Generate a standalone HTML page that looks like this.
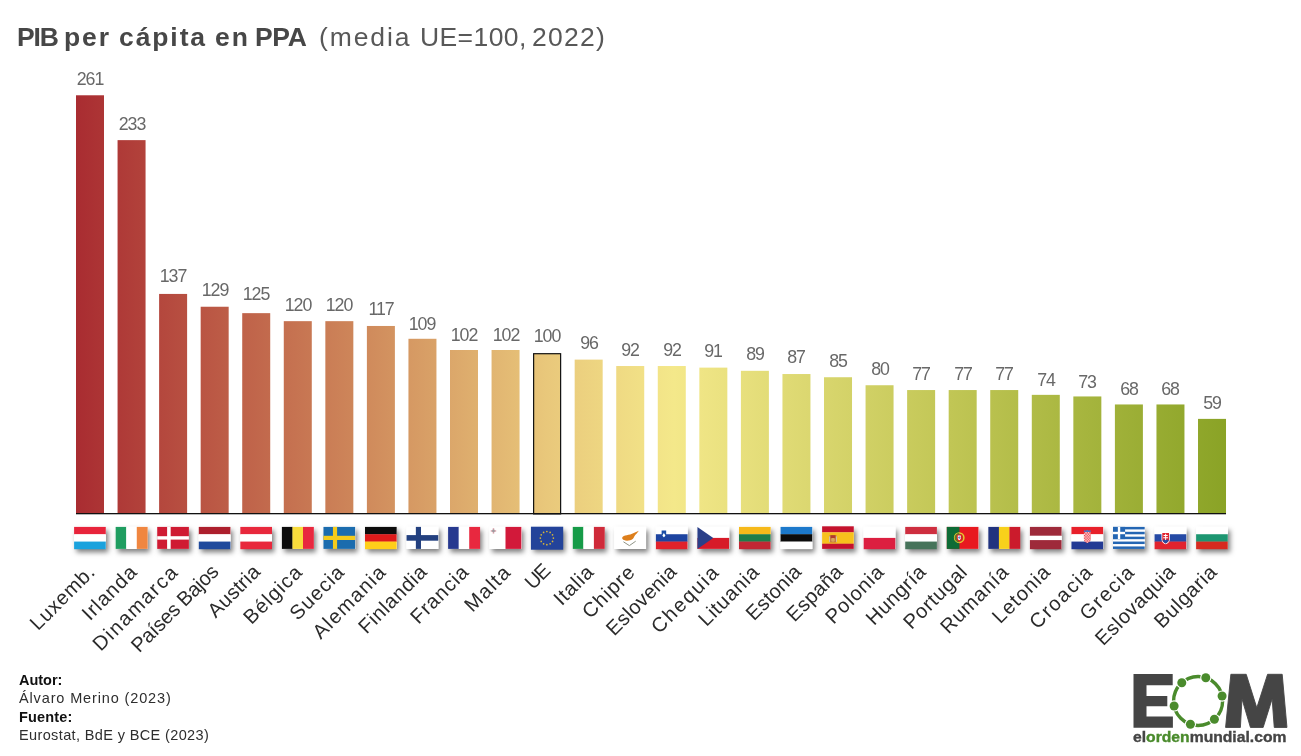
<!DOCTYPE html><html><head><meta charset="utf-8"><title>PIB per cápita en PPA</title><style>

html,body{margin:0;padding:0;background:#fff;}
body{width:1301px;height:756px;position:relative;overflow:hidden;font-family:"Liberation Sans",sans-serif;}
.t{position:absolute;white-space:pre;line-height:1;will-change:transform;}
.title{top:24.44px;font-size:26.5px;color:#474747;}
.tb{font-weight:700;}
.tr{color:#585858;}
.v{position:absolute;will-change:transform;width:60px;text-align:center;font-size:17.8px;color:#686868;line-height:1;letter-spacing:-1.1px;}
.l{position:absolute;white-space:pre;font-size:20.2px;color:#2b2b2b;line-height:1;transform-origin:100% 50%;transform:rotate(-45deg);text-align:right;}
.f{left:18.5px;font-size:14.5px;color:#111;}
.logo{left:1133px;top:729.6px;font-size:14.4px;font-weight:700;color:#454545;transform-origin:0 0;transform:scaleX(1.09);letter-spacing:0;-webkit-text-stroke:0.35px currentColor;}
.logo i{font-style:normal;color:#4a8b2c;}

</style></head><body>
<svg width="1301" height="756" viewBox="0 0 1301 756" style="position:absolute;left:0;top:0">
<defs>
<linearGradient id="g" gradientUnits="userSpaceOnUse" x1="76.0" y1="0" x2="1226.01" y2="0"><stop offset="0" stop-color="#a92c31"/><stop offset="0.25" stop-color="#cf895b"/><stop offset="0.41" stop-color="#e9c87b"/><stop offset="0.52" stop-color="#f4e88a"/><stop offset="0.76" stop-color="#c1c655"/><stop offset="1" stop-color="#8aa326"/></linearGradient>
<filter id="sh" x="-30%" y="-30%" width="170%" height="190%"><feDropShadow dx="2.4" dy="3.4" stdDeviation="2.7" flood-color="#000" flood-opacity="0.5"/></filter>
<pattern id="chk" width="2.72" height="2.72" patternUnits="userSpaceOnUse" x="12.6" y="5.2"><rect width="1.36" height="1.36" x="1.36" y="0" fill="#fff"/><rect width="1.36" height="1.36" x="0" y="1.36" fill="#fff"/></pattern>
</defs>
<rect x="76" y="95.28" width="28" height="418.12" fill="url(#g)"/>
<rect x="117.56" y="140.13" width="28" height="373.27" fill="url(#g)"/>
<rect x="159.11" y="293.93" width="28" height="219.47" fill="url(#g)"/>
<rect x="200.67" y="306.74" width="28" height="206.66" fill="url(#g)"/>
<rect x="242.22" y="313.15" width="28" height="200.25" fill="url(#g)"/>
<rect x="283.78" y="321.16" width="28" height="192.24" fill="url(#g)"/>
<rect x="325.34" y="321.16" width="28" height="192.24" fill="url(#g)"/>
<rect x="366.89" y="325.97" width="28" height="187.43" fill="url(#g)"/>
<rect x="408.45" y="338.78" width="28" height="174.62" fill="url(#g)"/>
<rect x="450" y="350" width="28" height="163.4" fill="url(#g)"/>
<rect x="491.56" y="350" width="28" height="163.4" fill="url(#g)"/>
<rect x="533.62" y="353.7" width="27" height="160.2" fill="url(#g)" stroke="#111" stroke-width="1.2"/>
<rect x="574.67" y="359.61" width="28" height="153.79" fill="url(#g)"/>
<rect x="616.23" y="366.02" width="28" height="147.38" fill="url(#g)"/>
<rect x="657.78" y="366.02" width="28" height="147.38" fill="url(#g)"/>
<rect x="699.34" y="367.62" width="28" height="145.78" fill="url(#g)"/>
<rect x="740.9" y="370.82" width="28" height="142.58" fill="url(#g)"/>
<rect x="782.45" y="374.03" width="28" height="139.37" fill="url(#g)"/>
<rect x="824.01" y="377.23" width="28" height="136.17" fill="url(#g)"/>
<rect x="865.56" y="385.24" width="28" height="128.16" fill="url(#g)"/>
<rect x="907.12" y="390.05" width="28" height="123.35" fill="url(#g)"/>
<rect x="948.68" y="390.05" width="28" height="123.35" fill="url(#g)"/>
<rect x="990.23" y="390.05" width="28" height="123.35" fill="url(#g)"/>
<rect x="1031.79" y="394.85" width="28" height="118.55" fill="url(#g)"/>
<rect x="1073.34" y="396.45" width="28" height="116.95" fill="url(#g)"/>
<rect x="1114.9" y="404.46" width="28" height="108.94" fill="url(#g)"/>
<rect x="1156.46" y="404.46" width="28" height="108.94" fill="url(#g)"/>
<rect x="1198.01" y="418.88" width="28" height="94.52" fill="url(#g)"/>
<rect x="76.0" y="513" width="1150.01" height="1.3" fill="#111"/>
<g transform="translate(74.1 526.9) scale(0.99 1)"><rect width="32" height="22" fill="#fff" filter="url(#sh)"/><rect x="0" y="0" width="32" height="7.63" fill="#e8243b"/><rect x="0" y="7.33" width="32" height="7.63" fill="#ffffff"/><rect x="0" y="14.67" width="32" height="7.63" fill="#1aa2dd"/></g>
<g transform="translate(115.66 526.9) scale(0.99 1)"><rect width="32" height="22" fill="#fff" filter="url(#sh)"/><rect x="0" y="0" width="10.97" height="22" fill="#1f9d60"/><rect x="10.67" y="0" width="10.97" height="22" fill="#ffffff"/><rect x="21.33" y="0" width="10.97" height="22" fill="#f08640"/></g>
<g transform="translate(157.21 526.9) scale(0.99 1)"><rect width="32" height="22" fill="#fff" filter="url(#sh)"/><rect width="32" height="22" fill="#cf1b33"/><rect x="10" y="0" width="3.6" height="22" fill="#fff"/><rect x="0" y="9.3" width="32" height="3.4" fill="#fff"/></g>
<g transform="translate(198.77 526.9) scale(0.99 1)"><rect width="32" height="22" fill="#fff" filter="url(#sh)"/><rect x="0" y="0" width="32" height="7.63" fill="#ad1f2d"/><rect x="0" y="7.33" width="32" height="7.63" fill="#ffffff"/><rect x="0" y="14.67" width="32" height="7.63" fill="#1f4a9c"/></g>
<g transform="translate(240.32 526.9) scale(0.99 1)"><rect width="32" height="22" fill="#fff" filter="url(#sh)"/><rect x="0" y="0" width="32" height="7.63" fill="#e8283c"/><rect x="0" y="7.33" width="32" height="7.63" fill="#ffffff"/><rect x="0" y="14.67" width="32" height="7.63" fill="#e8283c"/></g>
<g transform="translate(281.88 526.9) scale(0.99 1)"><rect width="32" height="22" fill="#fff" filter="url(#sh)"/><rect x="0" y="0" width="10.97" height="22" fill="#0c0c0c"/><rect x="10.67" y="0" width="10.97" height="22" fill="#f8dc3c"/><rect x="21.33" y="0" width="10.97" height="22" fill="#e8283f"/></g>
<g transform="translate(323.44 526.9) scale(0.99 1)"><rect width="32" height="22" fill="#fff" filter="url(#sh)"/><rect width="32" height="22" fill="#1b6cae"/><rect x="9.6" y="0" width="4.2" height="22" fill="#f5cb1b"/><rect x="0" y="8.9" width="32" height="4.2" fill="#f5cb1b"/></g>
<g transform="translate(364.99 526.9) scale(0.99 1)"><rect width="32" height="22" fill="#fff" filter="url(#sh)"/><rect x="0" y="0" width="32" height="7.63" fill="#0c0c0c"/><rect x="0" y="7.33" width="32" height="7.63" fill="#dd1a1a"/><rect x="0" y="14.67" width="32" height="7.63" fill="#ffce1a"/></g>
<g transform="translate(406.55 526.9) scale(0.99 1)"><rect width="32" height="22" fill="#fff" filter="url(#sh)"/><rect width="32" height="22" fill="#fff"/><rect x="9.4" y="0" width="5.2" height="22" fill="#23407f"/><rect x="0" y="8.2" width="32" height="5.6" fill="#23407f"/></g>
<g transform="translate(448.1 526.9) scale(0.99 1)"><rect width="32" height="22" fill="#fff" filter="url(#sh)"/><rect x="0" y="0" width="10.97" height="22" fill="#27398f"/><rect x="10.67" y="0" width="10.97" height="22" fill="#ffffff"/><rect x="21.33" y="0" width="10.97" height="22" fill="#e8283f"/></g>
<g transform="translate(489.66 526.9) scale(0.99 1)"><rect width="32" height="22" fill="#fff" filter="url(#sh)"/><rect width="32" height="22" fill="#fff"/><rect x="16" y="0" width="16" height="22" fill="#d2193a"/><rect x="3.1" y="1.3" width="1.5" height="5.4" fill="#d9a3ad"/><rect x="1.1" y="3.3" width="5.5" height="1.5" fill="#d9a3ad"/><circle cx="3.85" cy="4.05" r="1.35" fill="#9b9b9f"/></g>
<g transform="translate(531.22 526.9) scale(0.99 1)"><rect width="32" height="22" fill="#fff" filter="url(#sh)"/><rect x="-0.3" y="-0.2" width="32.6" height="23" fill="#23439a"/><circle cx="15.8" cy="4.6" r="0.85" fill="#d9b638"/><circle cx="19.1" cy="5.48" r="0.85" fill="#d9b638"/><circle cx="21.52" cy="7.9" r="0.85" fill="#d9b638"/><circle cx="22.4" cy="11.2" r="0.85" fill="#d9b638"/><circle cx="21.52" cy="14.5" r="0.85" fill="#d9b638"/><circle cx="19.1" cy="16.92" r="0.85" fill="#d9b638"/><circle cx="15.8" cy="17.8" r="0.85" fill="#d9b638"/><circle cx="12.5" cy="16.92" r="0.85" fill="#d9b638"/><circle cx="10.08" cy="14.5" r="0.85" fill="#d9b638"/><circle cx="9.2" cy="11.2" r="0.85" fill="#d9b638"/><circle cx="10.08" cy="7.9" r="0.85" fill="#d9b638"/><circle cx="12.5" cy="5.48" r="0.85" fill="#d9b638"/></g>
<g transform="translate(572.77 526.9) scale(0.99 1)"><rect width="32" height="22" fill="#fff" filter="url(#sh)"/><rect x="0" y="0" width="10.97" height="22" fill="#169b48"/><rect x="10.67" y="0" width="10.97" height="22" fill="#ffffff"/><rect x="21.33" y="0" width="10.97" height="22" fill="#cf2b3a"/></g>
<g transform="translate(614.33 526.9) scale(0.99 1)"><rect width="32" height="22" fill="#fff" filter="url(#sh)"/><rect width="32" height="22" fill="#fff"/><path d="M7.9 10.8 C8.4 9.2 10.4 8.4 12.6 8.3 C14.8 8 17.4 7.4 19.6 6.2 L24.8 3.8 L22.6 6.6 C21.4 7.8 20.6 8.6 20 9.8 C19.4 11.6 18 13 16 13.4 C14 13.9 11.4 14 9.8 13.2 C8.6 12.6 7.8 11.8 7.9 10.8 Z" fill="#dd7f1c"/><path d="M9.2 14.9 L15.2 18.7 L21.6 14.3" fill="none" stroke="#8f9384" stroke-width="1" stroke-linejoin="round"/></g>
<g transform="translate(655.88 526.9) scale(0.99 1)"><rect width="32" height="22" fill="#fff" filter="url(#sh)"/><rect x="0" y="0" width="32" height="7.63" fill="#ffffff"/><rect x="0" y="7.33" width="32" height="7.63" fill="#1d44a0"/><rect x="0" y="14.67" width="32" height="7.63" fill="#e1222b"/><path d="M5.8 3.6 h4.6 v4.4 c0 1.8 -1.4 2.8 -2.3 3.2 c-0.9 -0.4 -2.3 -1.4 -2.3 -3.2 z" fill="#1b4fa8"/><path d="M6.6 8.6 l1.5 -2.4 l1.5 2.4 c-0.3 0.9 -0.9 1.5 -1.5 1.8 c-0.6 -0.3 -1.2 -0.9 -1.5 -1.8z" fill="#fff"/></g>
<g transform="translate(697.44 526.9) scale(0.99 1)"><rect width="32" height="22" fill="#fff" filter="url(#sh)"/><rect width="32" height="11.2" fill="#fff"/><rect y="11" width="32" height="11" fill="#d71a28"/><path d="M0 0 L16 11 L0 22 Z" fill="#2a3f88"/></g>
<g transform="translate(739 526.9) scale(0.99 1)"><rect width="32" height="22" fill="#fff" filter="url(#sh)"/><rect x="0" y="0" width="32" height="7.63" fill="#f6b91a"/><rect x="0" y="7.33" width="32" height="7.63" fill="#1e7d49"/><rect x="0" y="14.67" width="32" height="7.63" fill="#c22734"/></g>
<g transform="translate(780.55 526.9) scale(0.99 1)"><rect width="32" height="22" fill="#fff" filter="url(#sh)"/><rect x="0" y="0" width="32" height="7.63" fill="#1c79cb"/><rect x="0" y="7.33" width="32" height="7.63" fill="#0c0c0c"/><rect x="0" y="14.67" width="32" height="7.63" fill="#ffffff"/></g>
<g transform="translate(822.11 526.9) scale(0.99 1)"><rect width="32" height="22" fill="#fff" filter="url(#sh)"/><rect y="-0.6" width="32" height="6.2" fill="#c4122d"/><rect y="5.4" width="32" height="11.6" fill="#f7c11c"/><rect y="16.8" width="32" height="5.2" fill="#c4122d"/><rect x="7.2" y="8" width="7.6" height="7.6" rx="1.6" fill="#c0703a"/><rect x="8.6" y="8.4" width="4.8" height="3" fill="#b33a2c"/><rect x="9.2" y="11.2" width="3.6" height="3.6" rx="1" fill="#d8a65a"/><rect x="7" y="9.4" width="1.1" height="5.6" fill="#d4c3a4"/><rect x="13.9" y="9.4" width="1.1" height="5.6" fill="#d4c3a4"/></g>
<g transform="translate(863.66 526.9) scale(0.99 1)"><rect width="32" height="22" fill="#fff" filter="url(#sh)"/><rect x="0" y="0" width="32" height="11.3" fill="#ffffff"/><rect x="0" y="11" width="32" height="11.3" fill="#dc1f40"/></g>
<g transform="translate(905.22 526.9) scale(0.99 1)"><rect width="32" height="22" fill="#fff" filter="url(#sh)"/><rect x="0" y="0" width="32" height="7.63" fill="#ce2e3f"/><rect x="0" y="7.33" width="32" height="7.63" fill="#ffffff"/><rect x="0" y="14.67" width="32" height="7.63" fill="#46735a"/></g>
<g transform="translate(946.78 526.9) scale(0.99 1)"><rect width="32" height="22" fill="#fff" filter="url(#sh)"/><rect width="32" height="22" fill="#e8191f"/><rect width="12.8" height="22" fill="#0e6b35"/><circle cx="12.6" cy="10.8" r="4.7" fill="#c2382a" stroke="#e9c92f" stroke-width="1.5"/><path d="M7.9 10.8 a4.7 4.7 0 0 1 4.7 -4.7 v9.4 a4.7 4.7 0 0 1 -4.7 -4.7z" fill="#5a7a2c"/><path d="M10.1 7.8 h5 v3.8 c0 1.8 -1.5 2.8 -2.5 3.2 c-1 -0.4 -2.5 -1.4 -2.5 -3.2z" fill="#e8191f"/><path d="M11.1 8.6 h3 v2.8 c0 1.1 -0.9 1.7 -1.5 2 c-0.6 -0.3 -1.5 -0.9 -1.5 -2z" fill="#fff"/><rect x="12.1" y="9.4" width="1" height="2.6" fill="#5b7fc4"/><rect x="11.5" y="10.1" width="2.2" height="0.9" fill="#5b7fc4"/></g>
<g transform="translate(988.33 526.9) scale(0.99 1)"><rect width="32" height="22" fill="#fff" filter="url(#sh)"/><rect x="0" y="0" width="10.97" height="22" fill="#21337f"/><rect x="10.67" y="0" width="10.97" height="22" fill="#f8d11b"/><rect x="21.33" y="0" width="10.97" height="22" fill="#cb1b2c"/></g>
<g transform="translate(1029.89 526.9) scale(0.99 1)"><rect width="32" height="22" fill="#fff" filter="url(#sh)"/><rect x="0" y="0" width="32" height="9.1" fill="#9e2a3a"/><rect x="0" y="8.8" width="32" height="4.7" fill="#ffffff"/><rect x="0" y="13.2" width="32" height="9.1" fill="#9e2a3a"/></g>
<g transform="translate(1071.44 526.9) scale(0.99 1)"><rect width="32" height="22" fill="#fff" filter="url(#sh)"/><rect x="0" y="0" width="32" height="7.63" fill="#e8202a"/><rect x="0" y="7.33" width="32" height="7.63" fill="#ffffff"/><rect x="0" y="14.67" width="32" height="7.63" fill="#233a94"/><path d="M12.6 5.2 h6.8 v7.2 c0 2.2 -2 3.4 -3.4 3.8 c-1.4 -0.4 -3.4 -1.6 -3.4 -3.8z" fill="#e8202a"/><path d="M12.6 5.2 h6.8 v7.2 c0 2.2 -2 3.4 -3.4 3.8 c-1.4 -0.4 -3.4 -1.6 -3.4 -3.8z" fill="url(#chk)"/><path d="M12.4 5.2 l0.6 -2.2 l1.4 0.8 l1.6 -1 l1.6 1 l1.4 -0.8 l0.6 2.2z" fill="#4a76c4"/></g>
<g transform="translate(1113 526.9) scale(0.99 1)"><rect width="32" height="22" fill="#fff" filter="url(#sh)"/><rect width="32" height="22" fill="#fff"/><rect x="0" y="0" width="32" height="2.5" fill="#2466b3"/><rect x="0" y="4.89" width="32" height="2.5" fill="#2466b3"/><rect x="0" y="9.78" width="32" height="2.5" fill="#2466b3"/><rect x="0" y="14.66" width="32" height="2.5" fill="#2466b3"/><rect x="0" y="19.55" width="32" height="2.5" fill="#2466b3"/><rect width="12.2" height="12.2" fill="#2466b3"/><rect x="4.9" y="0" width="2.4" height="12.2" fill="#fff"/><rect x="0" y="4.9" width="12.2" height="2.4" fill="#fff"/></g>
<g transform="translate(1154.56 526.9) scale(0.99 1)"><rect width="32" height="22" fill="#fff" filter="url(#sh)"/><rect x="0" y="0" width="32" height="7.63" fill="#ffffff"/><rect x="0" y="7.33" width="32" height="7.63" fill="#254aa5"/><rect x="0" y="14.67" width="32" height="7.63" fill="#e1232e"/><g transform="translate(0.8 0.2)"><path d="M6.2 5 h8.4 v7.4 c0 2.6 -2.6 4.2 -4.2 4.8 c-1.6 -0.6 -4.2 -2.2 -4.2 -4.8z" fill="#fff"/><path d="M7 5.8 h6.8 v6.6 c0 2 -2 3.4 -3.4 3.9 c-1.4 -0.5 -3.4 -1.9 -3.4 -3.9z" fill="#e1232e"/><path d="M9.9 6.6 h1 v1.4 h1.6 v1 h-1.6 v1.2 h2 v1 h-2 v2.4 h-1 v-2.4 h-2 v-1 h2 v-1.2 h-1.6 v-1 h1.6z" fill="#fff"/><path d="M7.3 13.4 c1 -1.4 2 -1 3.1 -0.2 c1.1 -0.8 2.1 -1.2 3.1 0.2 c-0.6 1.4 -2 2.4 -3.1 2.9 c-1.1 -0.5 -2.5 -1.5 -3.1 -2.9z" fill="#254aa5"/></g></g>
<g transform="translate(1196.11 526.9) scale(0.99 1)"><rect width="32" height="22" fill="#fff" filter="url(#sh)"/><rect x="0" y="0" width="32" height="7.63" fill="#ffffff"/><rect x="0" y="7.33" width="32" height="7.63" fill="#1d9671"/><rect x="0" y="14.67" width="32" height="7.63" fill="#d62a1f"/></g>
<path fill="#454545" d="M1133.5 674 h39.2 v11.2 h-26.2 v10.8 h20.8 v10.2 h-20.8 v10.2 h26.4 v11.4 h-39.4 z"/>
<path fill="#454545" stroke="#454545" stroke-width="0.9" stroke-linejoin="round" d="M1225.58 727.43 L1230.87 674.31 L1246.22 674.31 L1256.8 707.86 L1267.59 674.31 L1282.2 674.31 L1286.96 727.43 L1274.26 727.43 L1272.14 698.86 L1263.15 727.43 L1250.45 727.43 L1241.98 698.86 L1240.4 727.43 Z"/>
<circle cx="1198.1" cy="701.0" r="24.5" fill="none" stroke="#4a8b2c" stroke-width="3.4"/>
<circle cx="1222.09" cy="696.03" r="5.6" fill="#fff"/><circle cx="1222.09" cy="696.03" r="4.5" fill="#4a8b2c"/>
<circle cx="1214.4" cy="719.29" r="5.6" fill="#fff"/><circle cx="1214.4" cy="719.29" r="4.5" fill="#4a8b2c"/>
<circle cx="1190.41" cy="724.26" r="5.6" fill="#fff"/><circle cx="1190.41" cy="724.26" r="4.5" fill="#4a8b2c"/>
<circle cx="1174.11" cy="705.97" r="5.6" fill="#fff"/><circle cx="1174.11" cy="705.97" r="4.5" fill="#4a8b2c"/>
<circle cx="1181.8" cy="682.71" r="5.6" fill="#fff"/><circle cx="1181.8" cy="682.71" r="4.5" fill="#4a8b2c"/>
<circle cx="1205.79" cy="677.74" r="5.6" fill="#fff"/><circle cx="1205.79" cy="677.74" r="4.5" fill="#4a8b2c"/>
</svg>
<div class="t title tb" style="left:17.01px;letter-spacing:-1.2px">PIB</div>
<div class="t title tb" style="left:64.47px;letter-spacing:1.9px">per</div>
<div class="t title tb" style="left:118.75px;letter-spacing:1.9px">cápita</div>
<div class="t title tb" style="left:214.68px;letter-spacing:1.9px">en</div>
<div class="t title tb" style="left:255.2px;letter-spacing:-0.32px">PPA</div>
<div class="t title tr" style="left:318.74px;letter-spacing:1.9px">(media</div>
<div class="t title tr" style="left:420px;letter-spacing:0.4px">UE=100,</div>
<div class="t title tr" style="left:532.2px;letter-spacing:1.25px">2022)</div>
<div class="v" style="left:60px;top:70.6px">261</div>
<div class="v" style="left:101.56px;top:116.2px">233</div>
<div class="v" style="left:143.11px;top:268.25px">137</div>
<div class="v" style="left:184.67px;top:281.6px">129</div>
<div class="v" style="left:226.22px;top:286.15px">125</div>
<div class="v" style="left:267.78px;top:296.6px">120</div>
<div class="v" style="left:309.34px;top:296.8px">120</div>
<div class="v" style="left:350.89px;top:301.1px">117</div>
<div class="v" style="left:392.45px;top:315.5px">109</div>
<div class="v" style="left:434px;top:327px">102</div>
<div class="v" style="left:475.56px;top:327px">102</div>
<div class="v" style="left:517.12px;top:328.3px">100</div>
<div class="v" style="left:558.67px;top:335.1px">96</div>
<div class="v" style="left:600.23px;top:341.6px">92</div>
<div class="v" style="left:641.78px;top:341.6px">92</div>
<div class="v" style="left:683.34px;top:342.9px">91</div>
<div class="v" style="left:724.9px;top:345.9px">89</div>
<div class="v" style="left:766.45px;top:349px">87</div>
<div class="v" style="left:808.01px;top:352.6px">85</div>
<div class="v" style="left:849.56px;top:360.7px">80</div>
<div class="v" style="left:891.12px;top:365.7px">77</div>
<div class="v" style="left:932.68px;top:365.5px">77</div>
<div class="v" style="left:974.23px;top:365.5px">77</div>
<div class="v" style="left:1015.79px;top:371.8px">74</div>
<div class="v" style="left:1057.34px;top:373.5px">73</div>
<div class="v" style="left:1098.9px;top:381.4px">68</div>
<div class="v" style="left:1140.46px;top:381.4px">68</div>
<div class="v" style="left:1182.01px;top:394.7px">59</div>
<div style="position:absolute;left:0;top:0;width:1301px;height:756px;opacity:0.999">
<div class="l" style="right:1210.4px;top:558.3px;letter-spacing:0.73px;margin-right:-0.73px">Luxemb.</div>
<div class="l" style="right:1168.84px;top:558.3px;letter-spacing:0.99px;margin-right:-0.99px">Irlanda</div>
<div class="l" style="right:1127.29px;top:558.3px;letter-spacing:1.59px;margin-right:-1.59px">Dinamarca</div>
<div class="l" style="right:1085.73px;top:558.3px;letter-spacing:-0.34px;margin-right:0.34px">Países Bajos</div>
<div class="l" style="right:1044.18px;top:558.3px;letter-spacing:0.26px;margin-right:-0.26px">Austria</div>
<div class="l" style="right:1002.62px;top:558.3px;letter-spacing:1.12px;margin-right:-1.12px">Bélgica</div>
<div class="l" style="right:961.06px;top:558.3px;letter-spacing:1.06px;margin-right:-1.06px">Suecia</div>
<div class="l" style="right:919.51px;top:558.3px;letter-spacing:1.33px;margin-right:-1.33px">Alemania</div>
<div class="l" style="right:877.95px;top:558.3px;letter-spacing:0.62px;margin-right:-0.62px">Finlandia</div>
<div class="l" style="right:836.4px;top:558.3px;letter-spacing:0.88px;margin-right:-0.88px">Francia</div>
<div class="l" style="right:794.84px;top:558.3px;letter-spacing:1.47px;margin-right:-1.47px">Malta</div>
<div class="l" style="right:753.28px;top:558.3px;letter-spacing:-1.68px;margin-right:1.68px">UE</div>
<div class="l" style="right:711.73px;top:558.3px;letter-spacing:0.78px;margin-right:-0.78px">Italia</div>
<div class="l" style="right:670.17px;top:558.3px;letter-spacing:1.06px;margin-right:-1.06px">Chipre</div>
<div class="l" style="right:628.62px;top:558.3px;letter-spacing:0.28px;margin-right:-0.28px">Eslovenia</div>
<div class="l" style="right:587.06px;top:558.3px;letter-spacing:1.69px;margin-right:-1.69px">Chequia</div>
<div class="l" style="right:545.5px;top:558.3px;letter-spacing:0.77px;margin-right:-0.77px">Lituania</div>
<div class="l" style="right:503.95px;top:558.3px;letter-spacing:0.19px;margin-right:-0.19px">Estonia</div>
<div class="l" style="right:462.39px;top:558.3px;letter-spacing:0.3px;margin-right:-0.3px">España</div>
<div class="l" style="right:420.84px;top:558.3px;letter-spacing:0.89px;margin-right:-0.89px">Polonia</div>
<div class="l" style="right:379.28px;top:558.3px;letter-spacing:0.51px;margin-right:-0.51px">Hungría</div>
<div class="l" style="right:337.72px;top:558.3px;letter-spacing:0.71px;margin-right:-0.71px">Portugal</div>
<div class="l" style="right:296.17px;top:558.3px;letter-spacing:0.77px;margin-right:-0.77px">Rumanía</div>
<div class="l" style="right:254.61px;top:558.3px;letter-spacing:0.97px;margin-right:-0.97px">Letonia</div>
<div class="l" style="right:213.06px;top:558.3px;letter-spacing:1.58px;margin-right:-1.58px">Croacia</div>
<div class="l" style="right:171.5px;top:558.3px;letter-spacing:1.46px;margin-right:-1.46px">Grecia</div>
<div class="l" style="right:129.94px;top:558.3px;letter-spacing:0.53px;margin-right:-0.53px">Eslovaquia</div>
<div class="l" style="right:88.39px;top:558.3px;letter-spacing:0.67px;margin-right:-0.67px">Bulgaria</div>
</div>
<div class="t f" style="top:672.73px;font-weight:700;color:#111;letter-spacing:-0.02px">Autor:</div>
<div class="t f" style="top:691.33px;font-weight:400;color:#2e2e2e;letter-spacing:0.86px">Álvaro Merino (2023)</div>
<div class="t f" style="top:709.83px;font-weight:700;color:#111;letter-spacing:0.16px">Fuente:</div>
<div class="t f" style="top:728.23px;font-weight:400;color:#2e2e2e;letter-spacing:0.37px">Eurostat, BdE y BCE (2023)</div>
<div class="t logo">el<i>orden</i>mundial.com</div>
</body></html>
